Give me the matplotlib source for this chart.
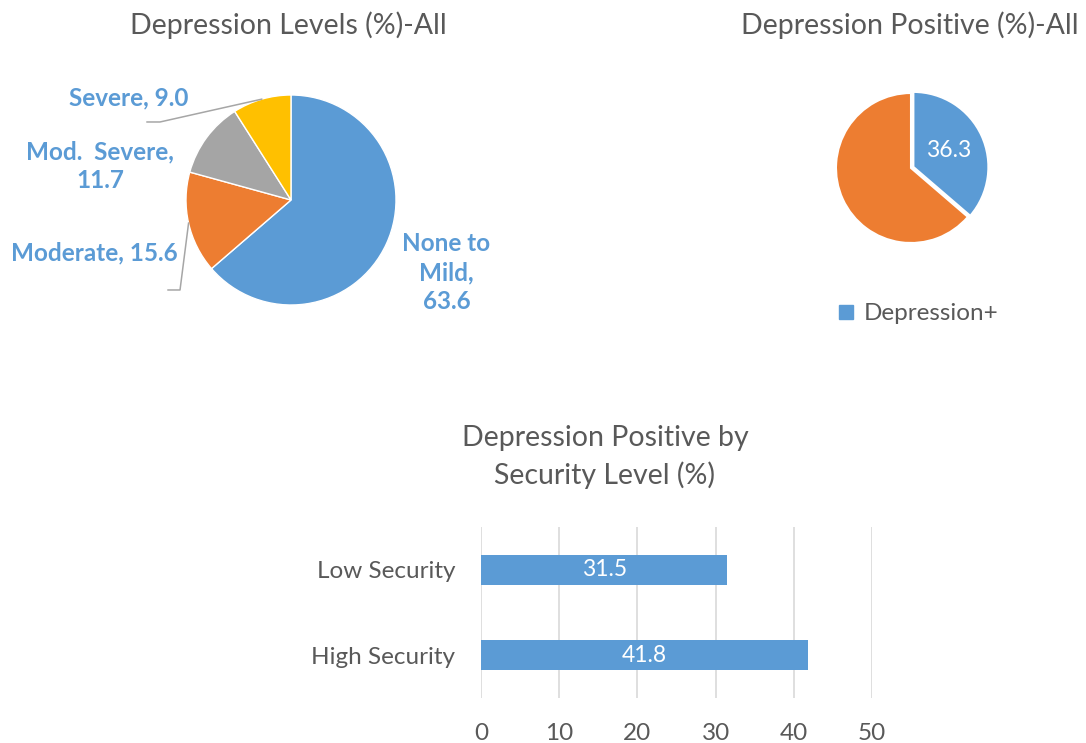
import matplotlib

matplotlib.use("Agg")
import matplotlib.pyplot as plt
import numpy as np
from matplotlib.patches import Patch

plt.rcParams["font.family"] = ["Lato", "DejaVu Sans"]

W, H = 1086, 743
GREY_TXT = "#595959"
BLUE = "#5B9BD5"
ORANGE = "#ED7D31"
GREY = "#A5A5A5"
GOLD = "#FFC000"

# depression levels (all)
level_names = ["None to\nMild", "Moderate", "Mod.  Severe", "Severe"]
level_values = [63.6, 15.6, 11.7, 9.0]
level_colors = [BLUE, ORANGE, GREY, GOLD]
# how each data label breaks: after name, or after the comma
level_breaks = ["\n", " ", "\n", " "]

# depression positive (all)
pos_names = ["Depression+", "Depression-"]
pos_values = [36.3, 63.7]
pos_colors = [BLUE, ORANGE]

# depression positive by security level
sec_names = ["High Security", "Low Security"]
sec_values = [41.8, 31.5]
sec_ticks = [0, 10, 20, 30, 40, 50]


def px_axes(fig, cx, cy, half):
    """square axes centred on pixel (cx, cy), half-size in px"""
    return fig.add_axes([(cx - half) / W, 1 - (cy + half) / H, 2 * half / W, 2 * half / H])


fig = plt.figure(figsize=(W / 100, H / 100), dpi=100)

# ---- pie 1 ----
K = 2.0
ax1 = px_axes(fig, 291, 200, 105 * K)
wedges, _ = ax1.pie(level_values, colors=level_colors, startangle=90, counterclock=False,
                    radius=1.0, wedgeprops=dict(edgecolor="white", linewidth=1))
ax1.set_xlim(-K, K)
ax1.set_ylim(-K, K)
ax1.set_aspect("equal")
ax1.axis("off")

lbl = dict(color=BLUE, fontsize=17.5, fontweight="bold", ha="center", va="center",
           linespacing=1.3)
lbl_pos = [(1.48, -0.69), (-1.87, -0.50), (-1.82, 0.32), (-1.55, 0.97)]
for name, val, brk, (lx, ly) in zip(level_names, level_values, level_breaks, lbl_pos):
    ax1.text(lx, ly, f"{name},{brk}{val:.1f}", **lbl)

# leader lines from wedge mid-edge
elbows = {1: ((-1.057, -0.857), (-1.171, -0.857)), 3: ((-1.248, 0.743), (-1.371, 0.743))}
for i, (p1, p2) in elbows.items():
    w = wedges[i]
    mid = np.deg2rad((w.theta1 + w.theta2) / 2)
    x0, y0 = np.cos(mid), np.sin(mid)
    ax1.plot([x0, p1[0], p2[0]], [y0, p1[1], p2[1]], color="#A6A6A6", lw=1.1)

fig.text(288 / W, 1 - 25 / H, "Depression Levels (%)-All", color=GREY_TXT,
         fontsize=20.5, ha="center", va="center")

# ---- pie 2 ----
K2 = 1.4
ax2 = px_axes(fig, 911, 168, 75 * K2)
w2, _ = ax2.pie(pos_values, colors=pos_colors, startangle=90, counterclock=False,
                explode=[0.035, 0], wedgeprops=dict(edgecolor="white", linewidth=1.5))
ax2.set_xlim(-K2, K2)
ax2.set_ylim(-K2, K2)
ax2.set_aspect("equal")
ax2.axis("off")
mid = np.deg2rad((w2[0].theta1 + w2[0].theta2) / 2)
ax2.text(0.55 * np.cos(mid), 0.55 * np.sin(mid), f"{pos_values[0]:.1f}", color="white",
         fontsize=16.5, ha="center", va="center")

fig.text(910 / W, 1 - 25 / H, "Depression Positive (%)-All", color=GREY_TXT,
         fontsize=20.5, ha="center", va="center")
fig.legend(handles=[Patch(color=BLUE, label=pos_names[0])], loc="center",
           bbox_to_anchor=(919 / W, 1 - 314 / H), frameon=False, fontsize=17.5,
           labelcolor=GREY_TXT, handlelength=0.55, handleheight=0.55, handletextpad=0.45)

# ---- bar chart ----
ax3 = fig.add_axes([481 / W, 1 - 698 / H, 391 / W, 171 / H])
y = np.arange(len(sec_names))
bars = ax3.barh(y, sec_values, height=0.35, color=BLUE, zorder=2)
for b, v in zip(bars, sec_values):
    ax3.text(v / 2, b.get_y() + b.get_height() / 2, f"{v:.1f}", color="white",
             fontsize=16.5, ha="center", va="center")
ax3.set_xlim(sec_ticks[0], sec_ticks[-1])
ax3.set_ylim(-0.5, 1.5)
ax3.set_xticks(sec_ticks)
ax3.set_yticks(y, sec_names)
ax3.grid(axis="x", color="#D9D9D9", lw=1.2, zorder=0)
ax3.tick_params(length=0, labelsize=17.5, labelcolor=GREY_TXT)
ax3.tick_params(axis="x", pad=18)
ax3.tick_params(axis="y", pad=18.5)
for s in ax3.spines.values():
    s.set_visible(False)

fig.text(605 / W, 1 - 457 / H, "Depression Positive by\nSecurity Level (%)", color=GREY_TXT,
         fontsize=20.5, ha="center", va="center", linespacing=1.5)

fig.savefig("out.png", dpi=100)
